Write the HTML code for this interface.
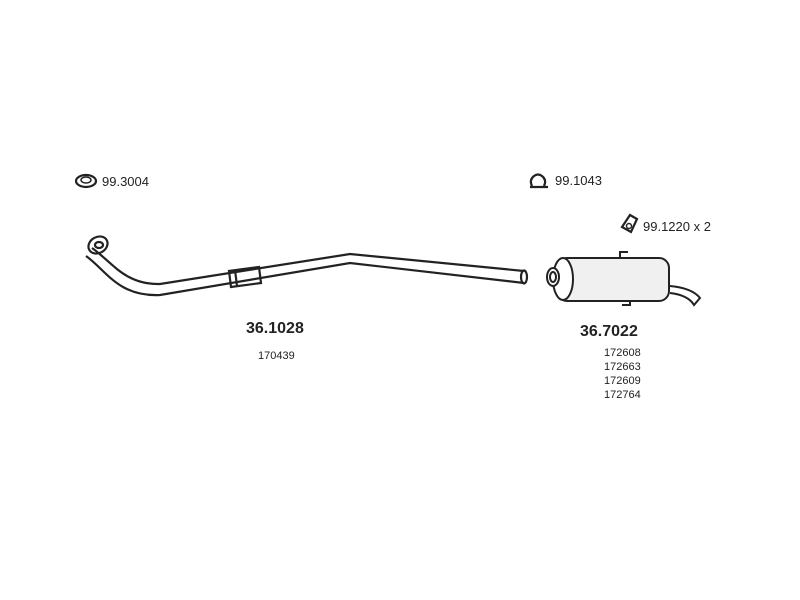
<!DOCTYPE html>
<html><head><style>
html,body{margin:0;padding:0;background:#fff;width:800px;height:600px;overflow:hidden}
</style></head><body>
<svg width="800" height="600" xmlns="http://www.w3.org/2000/svg" font-family="Liberation Sans, sans-serif">
<rect width="800" height="600" fill="#fff"/>
<ellipse cx="86" cy="181" rx="10" ry="6" fill="none" stroke="#222" stroke-width="2.2"/>
<ellipse cx="86" cy="180" rx="5" ry="3" fill="none" stroke="#222" stroke-width="1.5"/>
<text x="102" y="186" font-size="13" fill="#222">99.3004</text>
<path d="M532,186 q-3,-6 2,-10 q4,-3 8,0 q5,4 2,10" fill="none" stroke="#222" stroke-width="2.2"/>
<line x1="530" y1="187" x2="548" y2="187" stroke="#222" stroke-width="2.2"/>
<text x="555" y="185" font-size="13" fill="#222">99.1043</text>
<path d="M622,227 l8,-12 l7,4 l-6,13 z" fill="none" stroke="#222" stroke-width="2.2"/>
<circle cx="629" cy="226" r="2.5" fill="none" stroke="#222" stroke-width="1.4"/>
<text x="643" y="231" font-size="13" fill="#222">99.1220 x 2</text>
<g fill="none" stroke="#222" stroke-width="2.2">
<path d="M92,248 C112,262 125,285 160,284 L350,254 L524,271"/>
<path d="M86,256 C106,270 118,297 160,295 L350,263 L524,283"/>
<ellipse cx="98" cy="245" rx="10" ry="8" transform="rotate(-30 98 245)"/>
<ellipse cx="99" cy="245" rx="4" ry="3"/>
<ellipse cx="524" cy="277" rx="3" ry="6.5"/>
<path d="M229,271 L259,267 L261,283 L231,287 z"/>
<line x1="235" y1="270" x2="237" y2="286"/>
</g>
<g fill="none" stroke="#222" stroke-width="2">
<path d="M670,293 Q688,295 694,305 L700,298 Q692,288 670,286" fill="#fff"/>
<rect x="557" y="258" width="112" height="43" rx="10" fill="#f0f0f0"/>
<ellipse cx="563" cy="279" rx="10" ry="21" fill="#fff"/>
<ellipse cx="553" cy="277" rx="6" ry="9" fill="#fff"/>
<ellipse cx="553" cy="277" rx="3" ry="5"/>
<path d="M620,258 v-6 h8"/>
<path d="M630,301 v4 h-8"/>
</g>
<text x="246" y="333" font-size="16" font-weight="bold" fill="#222">36.1028</text>
<text x="258" y="359" font-size="11" fill="#222">170439</text>
<text x="580" y="336" font-size="16" font-weight="bold" fill="#222">36.7022</text>
<text x="604" y="356" font-size="11" fill="#222">172608</text>
<text x="604" y="370" font-size="11" fill="#222">172663</text>
<text x="604" y="384" font-size="11" fill="#222">172609</text>
<text x="604" y="398" font-size="11" fill="#222">172764</text>
</svg>
</body></html>
